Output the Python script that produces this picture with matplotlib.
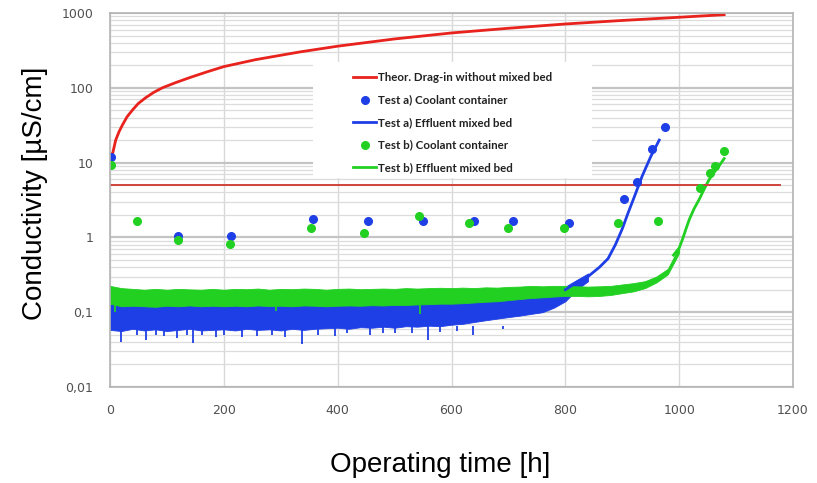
import numpy as np
import matplotlib.pyplot as plt
from matplotlib.patches import Rectangle
from matplotlib.ticker import FixedLocator, NullFormatter

# Theoretical drag-in without mixed bed
theor_t = [0, 2, 5, 10, 16, 22, 30, 40, 50, 63, 77, 92, 115, 139, 170, 200, 256, 334, 400,
           500, 600, 700, 800, 900, 1000, 1079]
theor_v = [11.7, 12.5, 13.6, 20, 26, 32, 41, 51, 62, 74, 87, 100, 117, 136, 163, 192, 238,
           302, 360, 450, 541, 625, 713, 795, 877, 949]

limit_t = [0, 1177]
limit_v = [5, 5]

# Test a) coolant container samples
a_cool_t = [2, 120, 212, 357, 454, 550, 640, 708, 807, 903, 926, 952, 975]
a_cool_v = [11.7, 1.03, 1.03, 1.75, 1.66, 1.66, 1.66, 1.66, 1.57, 3.24, 5.46, 15.4, 29.8]

# Test b) coolant container samples
b_cool_t = [2, 47, 119, 210, 354, 447, 543, 630, 700, 798, 893, 962, 1037, 1055, 1063, 1078]
b_cool_v = [9.3, 1.65, 0.93, 0.81, 1.33, 1.13, 1.94, 1.57, 1.33, 1.33, 1.58, 1.65, 4.54, 7.2, 8.9, 14.1]

# Test a) effluent mixed bed: noise band (min / max) and the breakthrough curve
a_band_t = list(range(0, 841, 20))
a_band_hi = [0.13, 0.135, 0.13, 0.137, 0.133, 0.135, 0.13, 0.137, 0.135, 0.13, 0.135,
             0.137, 0.133, 0.135, 0.13, 0.137, 0.135, 0.133, 0.137, 0.135, 0.13,
             0.135, 0.137, 0.133, 0.135, 0.137, 0.135, 0.138, 0.14, 0.14, 0.142,
             0.145, 0.148, 0.15, 0.155, 0.16, 0.165, 0.172, 0.18, 0.19, 0.22, 0.27, 0.33]
a_band_lo = [0.058, 0.056, 0.06, 0.057, 0.059, 0.056, 0.058, 0.06, 0.057, 0.058, 0.059,
             0.057, 0.06, 0.058, 0.059, 0.057, 0.06, 0.058, 0.06, 0.061, 0.062,
             0.06, 0.063, 0.062, 0.064, 0.062, 0.065, 0.064, 0.066, 0.065, 0.068,
             0.07, 0.074, 0.078, 0.082, 0.086, 0.09, 0.095, 0.1, 0.115, 0.14, 0.2, 0.26]
a_rise_t = [800, 820, 840, 860, 875, 888, 900, 910, 920, 935, 950, 965]
a_rise_v = [0.2, 0.25, 0.3, 0.4, 0.52, 0.8, 1.3, 2.1, 3.3, 6.6, 12, 20]
a_spike_t = [19, 48, 63, 81, 95, 118, 136, 145, 162, 186, 200, 232, 259, 285, 308, 337, 366,
             395, 416, 457, 480, 501, 530, 559, 580, 609, 638, 691]
a_spike_v = [0.04, 0.05, 0.042, 0.05, 0.048, 0.045, 0.05, 0.039, 0.049, 0.047, 0.05, 0.046,
             0.048, 0.05, 0.047, 0.038, 0.05, 0.048, 0.052, 0.05, 0.053, 0.052, 0.052, 0.042,
             0.055, 0.056, 0.05, 0.06]

# Test b) effluent mixed bed
b_band_t = list(range(0, 1001, 20))
b_band_hi = [0.225, 0.21, 0.205, 0.2, 0.205, 0.2, 0.205, 0.202, 0.2, 0.205, 0.2,
             0.205, 0.203, 0.207, 0.2, 0.205, 0.203, 0.207, 0.205, 0.2, 0.205,
             0.207, 0.203, 0.205, 0.207, 0.205, 0.21, 0.207, 0.21, 0.212, 0.21,
             0.213, 0.21, 0.215, 0.213, 0.218, 0.22, 0.225, 0.222, 0.225, 0.225,
             0.222, 0.22, 0.222, 0.225, 0.235, 0.245, 0.26, 0.3, 0.38, 0.75]
b_band_lo = [0.13, 0.12, 0.122, 0.12, 0.118, 0.122, 0.12, 0.123, 0.12, 0.122, 0.12,
             0.122, 0.12, 0.123, 0.121, 0.122, 0.12, 0.123, 0.122, 0.12, 0.122,
             0.123, 0.122, 0.124, 0.123, 0.125, 0.125, 0.127, 0.128, 0.13, 0.13,
             0.132, 0.135, 0.138, 0.14, 0.145, 0.15, 0.155, 0.158, 0.162, 0.165,
             0.165, 0.163, 0.165, 0.17, 0.18, 0.19, 0.21, 0.25, 0.32, 0.62]
b_rise_t = [990, 1000, 1006, 1012, 1018, 1026, 1035, 1045, 1053, 1062, 1070, 1079]
b_rise_v = [0.58, 0.72, 0.95, 1.3, 1.75, 2.4, 3.2, 4.6, 6, 7.5, 9, 11.3]
b_spike_t = [8, 291, 545]
b_spike_v = [0.1, 0.105, 0.095]

RED = '#e8221c'
LIMIT = '#d0433c'
BLUE = '#1f3fe6'
GREEN = '#22d022'

fig = plt.figure(figsize=(8.17, 4.83), dpi=100)
ax = fig.add_axes([110 / 817, 1 - 387 / 483, 683 / 817, 374 / 483])

ax.set_yscale('log')
ax.set_xlim(0, 1200)
ax.set_ylim(0.01, 1000)

# grid: decades darker, 2..9 lighter
ax.yaxis.set_major_locator(FixedLocator([0.01, 0.1, 1, 10, 100, 1000]))
minors = [m * d for d in [0.01, 0.1, 1, 10, 100] for m in range(2, 10)]
ax.yaxis.set_minor_locator(FixedLocator(minors))
ax.yaxis.set_minor_formatter(NullFormatter())
ax.set_yticklabels(['0,01', '0,1', '1', '10', '100', '1000'])
ax.set_xticks([0, 200, 400, 600, 800, 1000, 1200])
ax.grid(True, which='major', axis='y', color='#c4c4c4', lw=1.6)
ax.grid(True, which='minor', axis='y', color='#dcdcdc', lw=0.9)
ax.grid(True, which='major', axis='x', color='#d8d8d8', lw=1.0)
ax.set_axisbelow(True)
ax.tick_params(which='both', length=0)
ax.tick_params(axis='y', pad=12, labelsize=9, labelcolor='#505050')
ax.tick_params(axis='x', pad=12, labelsize=9, labelcolor='#505050')
for s in ax.spines.values():
    s.set_color('#b4b4b4')
    s.set_linewidth(1.2)

# white panel behind the legend hides the grid there
ax.add_patch(Rectangle((0.297, 0.559), 0.409, 0.31, transform=ax.transAxes,
                       facecolor='white', edgecolor='none', zorder=1))

# effluent bands, blue below green
ax.vlines(a_spike_t, a_spike_v, 0.065, color=BLUE, lw=1.3)
ax.fill_between(a_band_t, a_band_lo, a_band_hi, color=BLUE, lw=0.6, edgecolor=BLUE)
ax.plot(a_rise_t, a_rise_v, color=BLUE, lw=2)
ax.vlines(b_spike_t, b_spike_v, 0.125, color=GREEN, lw=1.3)
ax.fill_between(b_band_t, b_band_lo, b_band_hi, color=GREEN, lw=0.6, edgecolor=GREEN)
ax.plot(b_rise_t, b_rise_v, color=GREEN, lw=2)

ax.plot(theor_t, theor_v, color=RED, lw=2, label='Theor. Drag-in without mixed bed')
ax.plot(limit_t, limit_v, color=LIMIT, lw=1.4)

ax.plot(a_cool_t, a_cool_v, 'o', color=BLUE, ms=5.5, label='Test a) Coolant container')
ax.plot(b_cool_t, b_cool_v, 'o', color=GREEN, ms=5.5, label='Test b) Coolant container')

# legend handles for the effluent curves
ax.plot([], [], color=BLUE, lw=2, label='Test a) Effluent mixed bed')
ax.plot([], [], color=GREEN, lw=2, label='Test b) Effluent mixed bed')

h, l = ax.get_legend_handles_labels()
order = [0, 1, 3, 2, 4]
leg = ax.legend([h[i] for i in order], [l[i] for i in order],
                loc='upper left', bbox_to_anchor=(0.356, 0.842),
                borderaxespad=0, borderpad=0, frameon=False,
                prop={'family': 'Lato', 'weight': 'bold', 'size': 8.3},
                handlelength=2.0, handletextpad=0.17, labelspacing=1.0,
                numpoints=1)
for t in leg.get_texts():
    t.set_color('#222222')

fig.text(35 / 817, 1 - 193 / 483, 'Conductivity [µS/cm]', rotation=90,
         ha='center', va='center', fontsize=20, family='Liberation Sans')
fig.text(440 / 817, 1 - 465 / 483, 'Operating time [h]',
         ha='center', va='center', fontsize=20, family='Liberation Sans')

fig.savefig('out.png', dpi=100)
